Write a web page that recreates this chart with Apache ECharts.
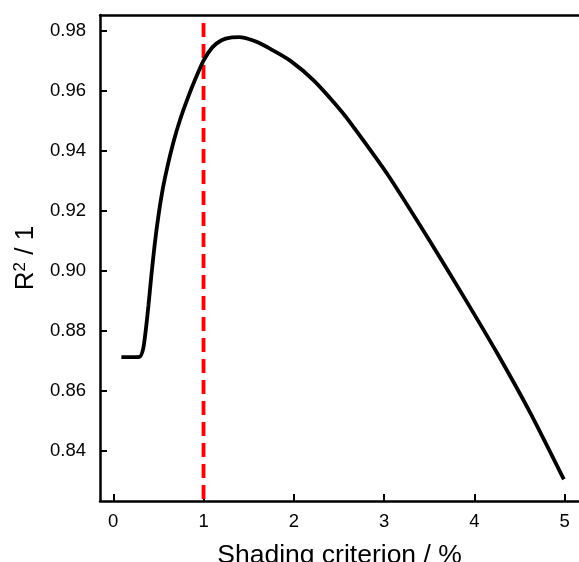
<!DOCTYPE html>
<html>
<head>
<meta charset="utf-8">
<script src="https://cdn.jsdelivr.net/npm/echarts@6/dist/echarts.min.js"></script>
<style>
  html, body { margin: 0; padding: 0; background: #fff; }
  #chart { width: 579px; height: 562px; }
</style>
</head>
<body>
<div id="chart"></div>
<script>
// Shading criterion (%) vs. coefficient of determination R²
const criterion = [0.09, 0.20, 0.29, 0.33, 0.36, 0.39, 0.42, 0.46, 0.50, 0.55, 0.60, 0.67, 0.74,
  0.82, 0.90, 1.00, 1.10, 1.20, 1.30, 1.40, 1.50, 1.60, 1.74, 1.96, 2.22, 2.52, 2.664, 3.034, 3.478,
  3.884, 4.254, 4.623, 4.992];
const r2 = [0.8712, 0.8712, 0.8713, 0.8738, 0.8802, 0.8885, 0.8978, 0.9090, 0.9182, 0.9275, 0.9347, 0.9432, 0.9503,
  0.9571, 0.9632, 0.9700, 0.9745, 0.9768, 0.9777, 0.9778, 0.9772, 0.9761, 0.9739, 0.9700, 0.9634, 0.9534, 0.9478, 0.9323, 0.9113,
  0.8913, 0.8725, 0.8525, 0.8305];

// Chosen threshold marker
const threshold = 1.0;
const thresholdSpan = [0.9825, 0.8233];

const xTicks = [0, 1, 2, 3, 4, 5];
const yTicks = [0.84, 0.86, 0.88, 0.90, 0.92, 0.94, 0.96, 0.98];

const xRange = [-0.147, 5.16];
const yRange = [0.8233, 0.9852];

const chart = echarts.init(document.getElementById('chart'));
const font = 'Liberation Sans, Arial, sans-serif';

chart.setOption({
  animation: false,
  grid: { left: 100, top: 15, right: 0, bottom: 61, containLabel: false, outerBoundsMode: 'none' },
  xAxis: [{
    type: 'value',
    min: xRange[0], max: xRange[1],
    position: 'bottom',
    name: 'Shading criterion / %',
    nameLocation: 'middle',
    nameGap: 41,
    nameTextStyle: { fontFamily: font, fontSize: 26.5, color: '#000', verticalAlign: 'top' },
    axisLine: { show: true, onZero: false, lineStyle: { color: '#000', width: 2.5 } },
    axisTick: { show: true, inside: true, length: 7, customValues: xTicks, lineStyle: { color: '#000', width: 2 } },
    axisLabel: { customValues: xTicks, fontFamily: font, fontSize: 18.5, color: '#000', margin: 11, formatter: v => String(v) },
    splitLine: { show: false }
  }, {
    type: 'value',
    min: xRange[0], max: xRange[1],
    position: 'top',
    axisLine: { show: true, onZero: false, lineStyle: { color: '#000', width: 2.5 } },
    axisTick: { show: false },
    axisLabel: { show: false },
    splitLine: { show: false }
  }],
  yAxis: {
    type: 'value',
    min: yRange[0], max: yRange[1],
    name: '{t|R}{s|2}{t| / 1}',
    nameLocation: 'middle',
    nameRotate: 90,
    nameGap: 59,
    nameTextStyle: {
      rich: {
        t: { fontFamily: font, fontSize: 26, color: '#000' },
        s: { fontFamily: font, fontSize: 17, color: '#000', verticalAlign: 'top', padding: [0, 0, 12, 0] }
      }
    },
    axisLine: { show: true, onZero: false, lineStyle: { color: '#000', width: 2.5 } },
    axisTick: { show: true, inside: true, length: 7, customValues: yTicks, lineStyle: { color: '#000', width: 2 } },
    axisLabel: { customValues: yTicks, fontFamily: font, fontSize: 18.5, color: '#000', margin: 14, formatter: v => v.toFixed(2) },
    splitLine: { show: false }
  },
  series: [{
    type: 'line',
    data: criterion.map((x, i) => [x, r2[i]]),
    smooth: 0.25,
    showSymbol: false,
    lineStyle: { color: '#000', width: 3.8 },
    z: 3
  }, {
    type: 'line',
    data: thresholdSpan.map(y => [threshold, y]),
    showSymbol: false,
    lineStyle: { color: '#ff0000', width: 3.8, type: [14, 7] },
    z: 2
  }]
});
</script>
</body>
</html>
